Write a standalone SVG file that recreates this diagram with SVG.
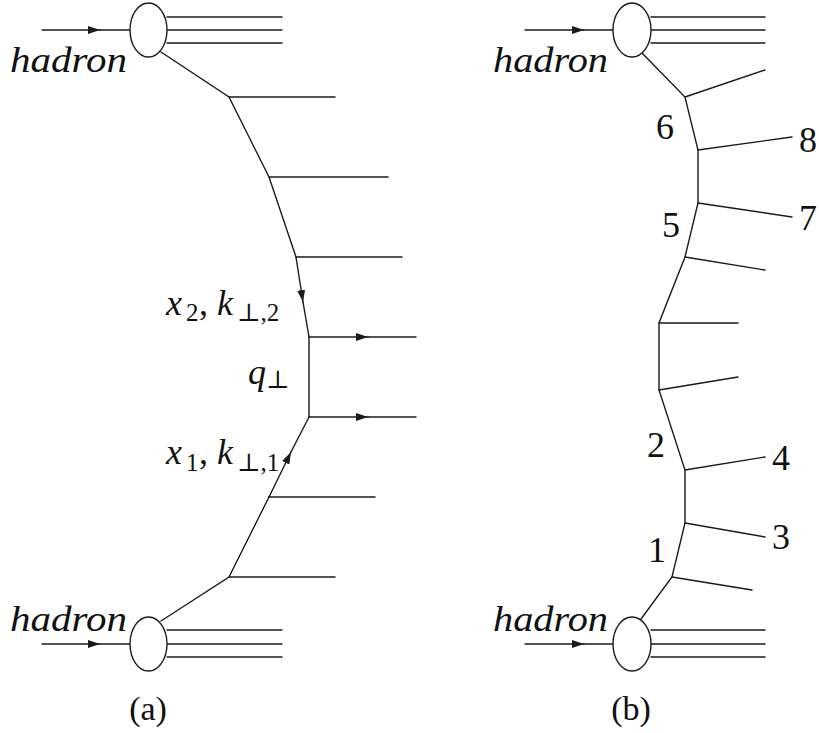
<svg xmlns="http://www.w3.org/2000/svg" width="819" height="733" viewBox="0 0 819 733">
<defs>
<marker id="ah" markerWidth="12" markerHeight="8" refX="12" refY="4" orient="auto" markerUnits="userSpaceOnUse">
<path d="M0,0 L12,4 L0,8 z" fill="#1a1a1a"/>
</marker>
</defs>
<rect width="819" height="733" fill="#fff"/>
<g id="connectors" stroke="#1a1a1a" stroke-width="1.4" fill="none" stroke-linecap="round">
<line x1="42" y1="30" x2="100" y2="30" marker-end="url(#ah)"/>
<line x1="100" y1="30" x2="130" y2="30"/>
<line x1="167" y1="17" x2="282" y2="17"/>
<line x1="167" y1="30" x2="282" y2="30"/>
<line x1="167" y1="43" x2="282" y2="43"/>
<polyline points="161,52 229,97 269,177 296,257"/>
<line x1="229" y1="97" x2="335" y2="97"/>
<line x1="269" y1="177" x2="388" y2="177"/>
<line x1="296" y1="257" x2="402" y2="257"/>
<line x1="296" y1="257" x2="303" y2="302" marker-end="url(#ah)"/>
<line x1="303" y1="302" x2="309" y2="337"/>
<line x1="309" y1="337" x2="368" y2="337" marker-end="url(#ah)"/>
<line x1="368" y1="337" x2="416" y2="337"/>
<line x1="309" y1="337" x2="309" y2="417"/>
<line x1="309" y1="417" x2="368" y2="417" marker-end="url(#ah)"/>
<line x1="368" y1="417" x2="416" y2="417"/>
<line x1="269" y1="497" x2="291" y2="452" marker-end="url(#ah)"/>
<line x1="291" y1="452" x2="309" y2="417"/>
<polyline points="269,497 229,577 161,621"/>
<line x1="269" y1="497" x2="375" y2="497"/>
<line x1="229" y1="577" x2="335" y2="577"/>
<line x1="42" y1="644" x2="100" y2="644" marker-end="url(#ah)"/>
<line x1="100" y1="644" x2="130" y2="644"/>
<line x1="167" y1="630" x2="282" y2="630"/>
<line x1="167" y1="644" x2="282" y2="644"/>
<line x1="167" y1="657" x2="282" y2="657"/>
<line x1="525" y1="30" x2="584" y2="30" marker-end="url(#ah)"/>
<line x1="584" y1="30" x2="613" y2="30"/>
<line x1="651" y1="17" x2="765" y2="17"/>
<line x1="651" y1="30" x2="765" y2="30"/>
<line x1="651" y1="43" x2="765" y2="43"/>
<polyline points="642,53 685,97 698,150 698,203 685,257 659,323 659,390 685,470 685,523 672,577 641,619"/>
<line x1="685" y1="97" x2="765" y2="70"/>
<line x1="698" y1="150" x2="792" y2="137"/>
<line x1="698" y1="203" x2="792" y2="217"/>
<line x1="685" y1="257" x2="765" y2="270"/>
<line x1="659" y1="323" x2="738" y2="323"/>
<line x1="659" y1="390" x2="738" y2="377"/>
<line x1="685" y1="470" x2="765" y2="457"/>
<line x1="685" y1="523" x2="765" y2="537"/>
<line x1="672" y1="577" x2="752" y2="590"/>
<line x1="525" y1="644" x2="584" y2="644" marker-end="url(#ah)"/>
<line x1="584" y1="644" x2="613" y2="644"/>
<line x1="651" y1="630" x2="765" y2="630"/>
<line x1="651" y1="644" x2="765" y2="644"/>
<line x1="651" y1="657" x2="765" y2="657"/>
</g>
<g stroke="#1a1a1a" stroke-width="1.4" fill="#fff">
<ellipse id="ellipse-a-top" cx="148.5" cy="30" rx="18.5" ry="27"/>
<ellipse id="ellipse-a-bottom" cx="148.5" cy="644" rx="18.5" ry="27"/>
<ellipse id="ellipse-b-top" cx="632" cy="30" rx="19" ry="27"/>
<ellipse id="ellipse-b-bottom" cx="632" cy="644" rx="19" ry="27"/>
</g>
<g id="hadron-labels" font-family="Liberation Serif, serif" font-size="36" font-style="italic" fill="#111">
<text x="10" y="72" textLength="117" lengthAdjust="spacingAndGlyphs">hadron</text>
<text x="10" y="631" textLength="117" lengthAdjust="spacingAndGlyphs">hadron</text>
<text x="493" y="72" textLength="115" lengthAdjust="spacingAndGlyphs">hadron</text>
<text x="493" y="631" textLength="115" lengthAdjust="spacingAndGlyphs">hadron</text>
</g>
<g id="labels-a" font-family="Liberation Serif, DejaVu Serif, serif" font-size="36" fill="#111">
<text y="315"><tspan x="166" font-style="italic">x</tspan><tspan x="186" y="321" font-size="25">2</tspan><tspan x="199" y="315">,</tspan><tspan x="217" font-style="italic">k</tspan><tspan x="237" y="321" font-size="25">⊥,2</tspan></text>
<text y="384"><tspan x="248" font-style="italic">q</tspan><tspan x="266" y="388" font-size="25">⊥</tspan></text>
<text y="464"><tspan x="166" font-style="italic">x</tspan><tspan x="186" y="471" font-size="25">1</tspan><tspan x="199" y="464">,</tspan><tspan x="217" font-style="italic">k</tspan><tspan x="237" y="471" font-size="25">⊥,1</tspan></text>
<text x="148" y="720" font-size="34" text-anchor="middle">(a)</text>
</g>
<g id="labels-b" font-family="Liberation Serif, serif" font-size="36" fill="#111">
<text x="656" y="139">6</text>
<text x="799" y="152">8</text>
<text x="662" y="237">5</text>
<text x="799" y="230">7</text>
<text x="647" y="457">2</text>
<text x="772" y="470">4</text>
<text x="772" y="549">3</text>
<text x="648" y="562">1</text>
<text x="631" y="720" font-size="34" text-anchor="middle">(b)</text>
</g>
</svg>
